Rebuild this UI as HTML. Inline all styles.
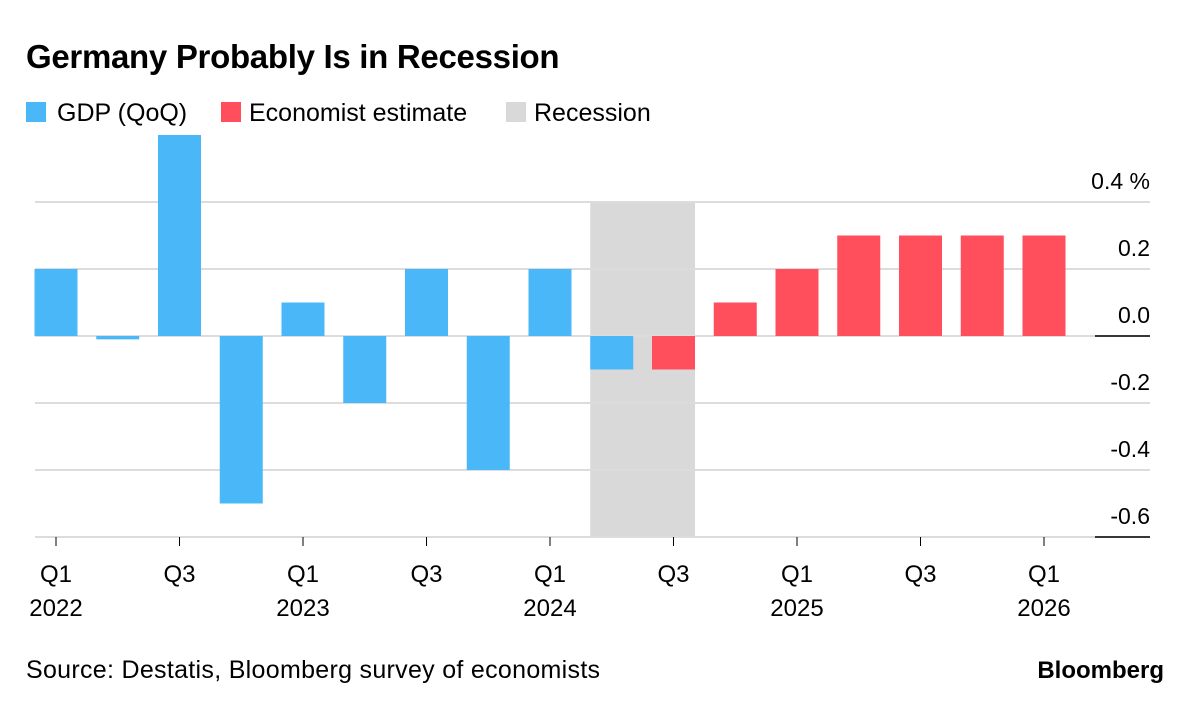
<!DOCTYPE html>
<html><head><meta charset="utf-8"><style>
body{margin:0;background:#fff;width:1200px;height:709px;overflow:hidden;font-family:"Liberation Sans",sans-serif;}
</style></head><body>
<svg id="c" width="1200" height="709">
<text x="26" y="68" font-size="33" font-weight="bold" fill="#000" letter-spacing="-0.3">Germany Probably Is in Recession</text>
<g font-size="25" fill="#000">
<rect x="26" y="102" width="20" height="20" fill="#4ab8f8"/>
<text x="57" y="121">GDP (QoQ)</text>
<rect x="221" y="102" width="20" height="20" fill="#ff4f5c"/>
<text x="249" y="121">Economist estimate</text>
<rect x="506" y="102" width="20" height="20" fill="#d9d9d9"/>
<text x="534" y="121">Recession</text>
</g>
<g id="plot"></g>
<text x="26" y="678" font-size="25" letter-spacing="0.3" fill="#000">Source: Destatis, Bloomberg survey of economists</text>
<text x="1164" y="678" font-size="24" font-weight="bold" text-anchor="end" fill="#000">Bloomberg</text>
</svg>
<script>
const values = [0.2,-0.01,0.6,-0.5,0.1,-0.2,0.2,-0.4,0.2,-0.1,-0.1,0.1,0.2,0.3,0.3,0.3,0.3];
const isEstimate = [0,0,0,0,0,0,0,0,0,0,1,1,1,1,1,1,1];
const yTicks = [0.4,0.2,0.0,-0.2,-0.4,-0.6];
const yTickLabels = ["0.4 %","0.2","0.0","-0.2","-0.4","-0.6"];
const xLabelIdx = [0,2,4,6,8,10,12,14,16];
const xLabelQ = ["Q1","Q3","Q1","Q3","Q1","Q3","Q1","Q3","Q1"];
const xLabelYear = ["2022","","2023","","2024","","2025","","2026"];
const recessionStart = 9, recessionEnd = 10;

const NS="http://www.w3.org/2000/svg";
const g=document.getElementById('plot');
const y=v=>336-v*335;
const xc=i=>56+i*61.75;
const bw=43;
function mk(t,a){const e=document.createElementNS(NS,t);for(const k in a)e.setAttribute(k,a[k]);g.appendChild(e);return e;}
let r=mk('rect',{x:xc(recessionStart)-bw/2,y:y(0.4),width:xc(recessionEnd)-xc(recessionStart)+bw,height:y(-0.6)-y(0.4),fill:'#d9d9d9'});


yTicks.forEach((t,i)=>{
  let l=mk('line',{x1:35,x2:1150,y1:y(t),y2:y(t),stroke:'#dcdcdc','stroke-width':2});
  
  
  let tx=mk('text',{x:1150,y:y(t)-13,'font-size':23,'text-anchor':'end',fill:'#000'});
  tx.textContent=yTickLabels[i];
  
  
});
values.forEach((v,i)=>{
  let b=mk('rect',{x:xc(i)-bw/2,y:Math.min(y(v),y(0)),width:bw,height:Math.max(Math.abs(y(v)-y(0)),1.5),fill:isEstimate[i]?'#ff4f5c':'#4ab8f8'});
  
  
});
[0,-0.6].forEach(t=>{
  let l=mk('line',{x1:1095,x2:1150,y1:y(t),y2:y(t),stroke:'#000','stroke-width':1.5});
  
  
});
xLabelIdx.forEach((idx,i)=>{
  let l=mk('line',{x1:xc(idx),x2:xc(idx),y1:537,y2:546,stroke:'#000','stroke-width':1});
  
  
  let t=mk('text',{x:xc(idx),y:582,'font-size':24,'text-anchor':'middle',fill:'#000'});
  t.textContent=xLabelQ[i];
  
  
  if(xLabelYear[i]){
    let t2=mk('text',{x:xc(idx),y:616,'font-size':24,'text-anchor':'middle',fill:'#000'});
    t2.textContent=xLabelYear[i];
    
    
  }
});
</script>
</body></html>
